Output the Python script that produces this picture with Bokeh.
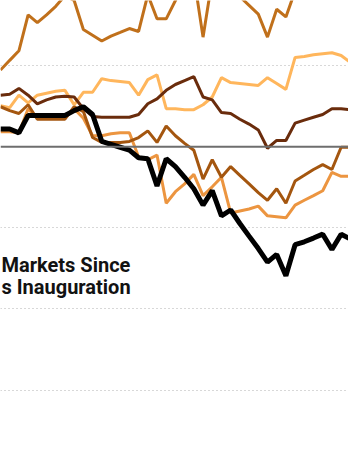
from bokeh.plotting import figure
from bokeh.models import Range1d, Span, Label, FixedTicker
from bokeh.embed import file_html
from bokeh.resources import INLINE

# trading-day index
days = list(range(39))

# percent change since inauguration
black_series = [1.10, 1.10, 0.86, 1.93, 1.93, 1.93, 1.93, 1.93, 2.23, 2.47, 1.99, 0.33, 0.15,
                -0.03, -0.21, -0.68, -0.74, -2.41, -0.74, -1.22, -1.88, -2.59, -3.60, -2.71,
                -4.26, -3.90, -4.73, -5.51, -6.28, -7.11, -6.64, -7.95, -6.04, -5.86, -5.63,
                -5.39, -6.34, -5.39, -5.68]
top_series = [4.73, 5.33, 5.92, 8.13, 7.65, 8.13, 8.66, 9.32, 9.02, 7.23, 6.88, 6.52, 6.82,
              7.05, 7.29, 7.11, 9.38, 7.89, 7.89, 9.02, 10.21, 10.51, 6.76, 10.33, 10.51,
              9.91, 9.26, 8.72, 8.18, 6.76, 8.48, 8.01, 9.61, 9.73, 10.21, 9.91, 10.51,
              10.09, 10.33]
darkbrown_series = [3.18, 3.24, 3.60, 3.18, 2.65, 2.89, 3.07, 3.12, 3.07, 2.35, 1.87, 1.82,
                    1.82, 1.82, 1.82, 1.99, 2.65, 2.95, 3.48, 3.84, 4.08, 4.32, 3.07, 2.89,
                    2.11, 2.05, 1.70, 1.40, 1.04, -0.09, 0.39, 0.39, 1.46, 1.64, 1.82, 1.99,
                    2.35, 2.35, 2.29]
light_series = [2.53, 2.41, 3.18, 2.71, 3.18, 3.30, 3.42, 3.48, 2.59, 3.36, 3.36, 4.20, 4.08,
                4.02, 3.96, 3.18, 4.14, 4.43, 2.35, 2.35, 2.29, 2.29, 2.59, 3.07, 4.26, 3.96,
                3.90, 3.84, 3.78, 4.26, 3.90, 3.54, 5.51, 5.57, 5.68, 5.74, 5.80, 5.63, 5.21]
brown_series = [2.47, 2.23, 2.05, 2.59, 1.70, 1.70, 1.70, 1.70, 2.47, 2.17, 0.57, 0.27, 0.27,
                0.27, 0.33, 0.57, 0.98, 0.27, 1.28, 0.68, 0.21, -0.21, -1.99, -0.80, -1.88,
                -1.22, -1.76, -2.29, -2.83, -3.30, -2.59, -3.48, -2.11, -1.76, -1.40, -1.10,
                -1.40, -0.03, -0.03]
orange_series = [0.92, 0.92, 0.86, 2.35, 1.76, 1.76, 1.76, 1.76, 2.35, 1.76, 0.68, 0.68, 0.80,
                 0.86, 0.86, -0.63, -0.80, -0.51, -3.48, -2.77, -2.29, -1.70, -3.01, -2.47,
                 -1.88, -4.08, -3.96, -3.84, -3.66, -4.26, -4.32, -4.38, -3.60, -3.30, -3.01,
                 -2.71, -1.58, -1.82, -1.82]

grid_values = [5, -5, -10, -15]
title_lines = ["Markets Since", "s Inauguration"]
title_baselines = [-7.29, -8.66]

p = figure(width=348, height=444, output_backend="svg", toolbar_location=None,
           x_range=Range1d(0.0, 37.8), y_range=Range1d(-18.36, 9.02),
           min_border=0, outline_line_color=None)
p.xaxis.visible = False
p.yaxis.visible = False
p.xgrid.visible = False
p.ygrid.ticker = FixedTicker(ticks=grid_values)
p.ygrid.grid_line_color = "#b0b0b0"
p.ygrid.grid_line_width = 1
p.ygrid.grid_line_dash = "1 3"

p.add_layout(Span(location=0, dimension="width", line_color="#6e6e6e", line_width=2))

p.line(days, light_series, line_color="#ffb65c", line_width=3)
p.line(days, orange_series, line_color="#ec9540", line_width=3)
p.line(days, brown_series, line_color="#a4560f", line_width=3)
p.line(days, darkbrown_series, line_color="#6a2c0c", line_width=3)
p.line(days, top_series, line_color="#c0701b", line_width=3)
p.line(days, black_series, line_color="#000000", line_width=5)

for txt, yv in zip(title_lines, title_baselines):
    p.add_layout(Label(x=1, x_units="screen", y=yv, text=txt, text_font="Roboto",
                       text_font_style="bold", text_font_size="20px", text_color="#121212",
                       text_baseline="alphabetic", text_align="left"))

open("out.html", "w").write(file_html(p, INLINE))
